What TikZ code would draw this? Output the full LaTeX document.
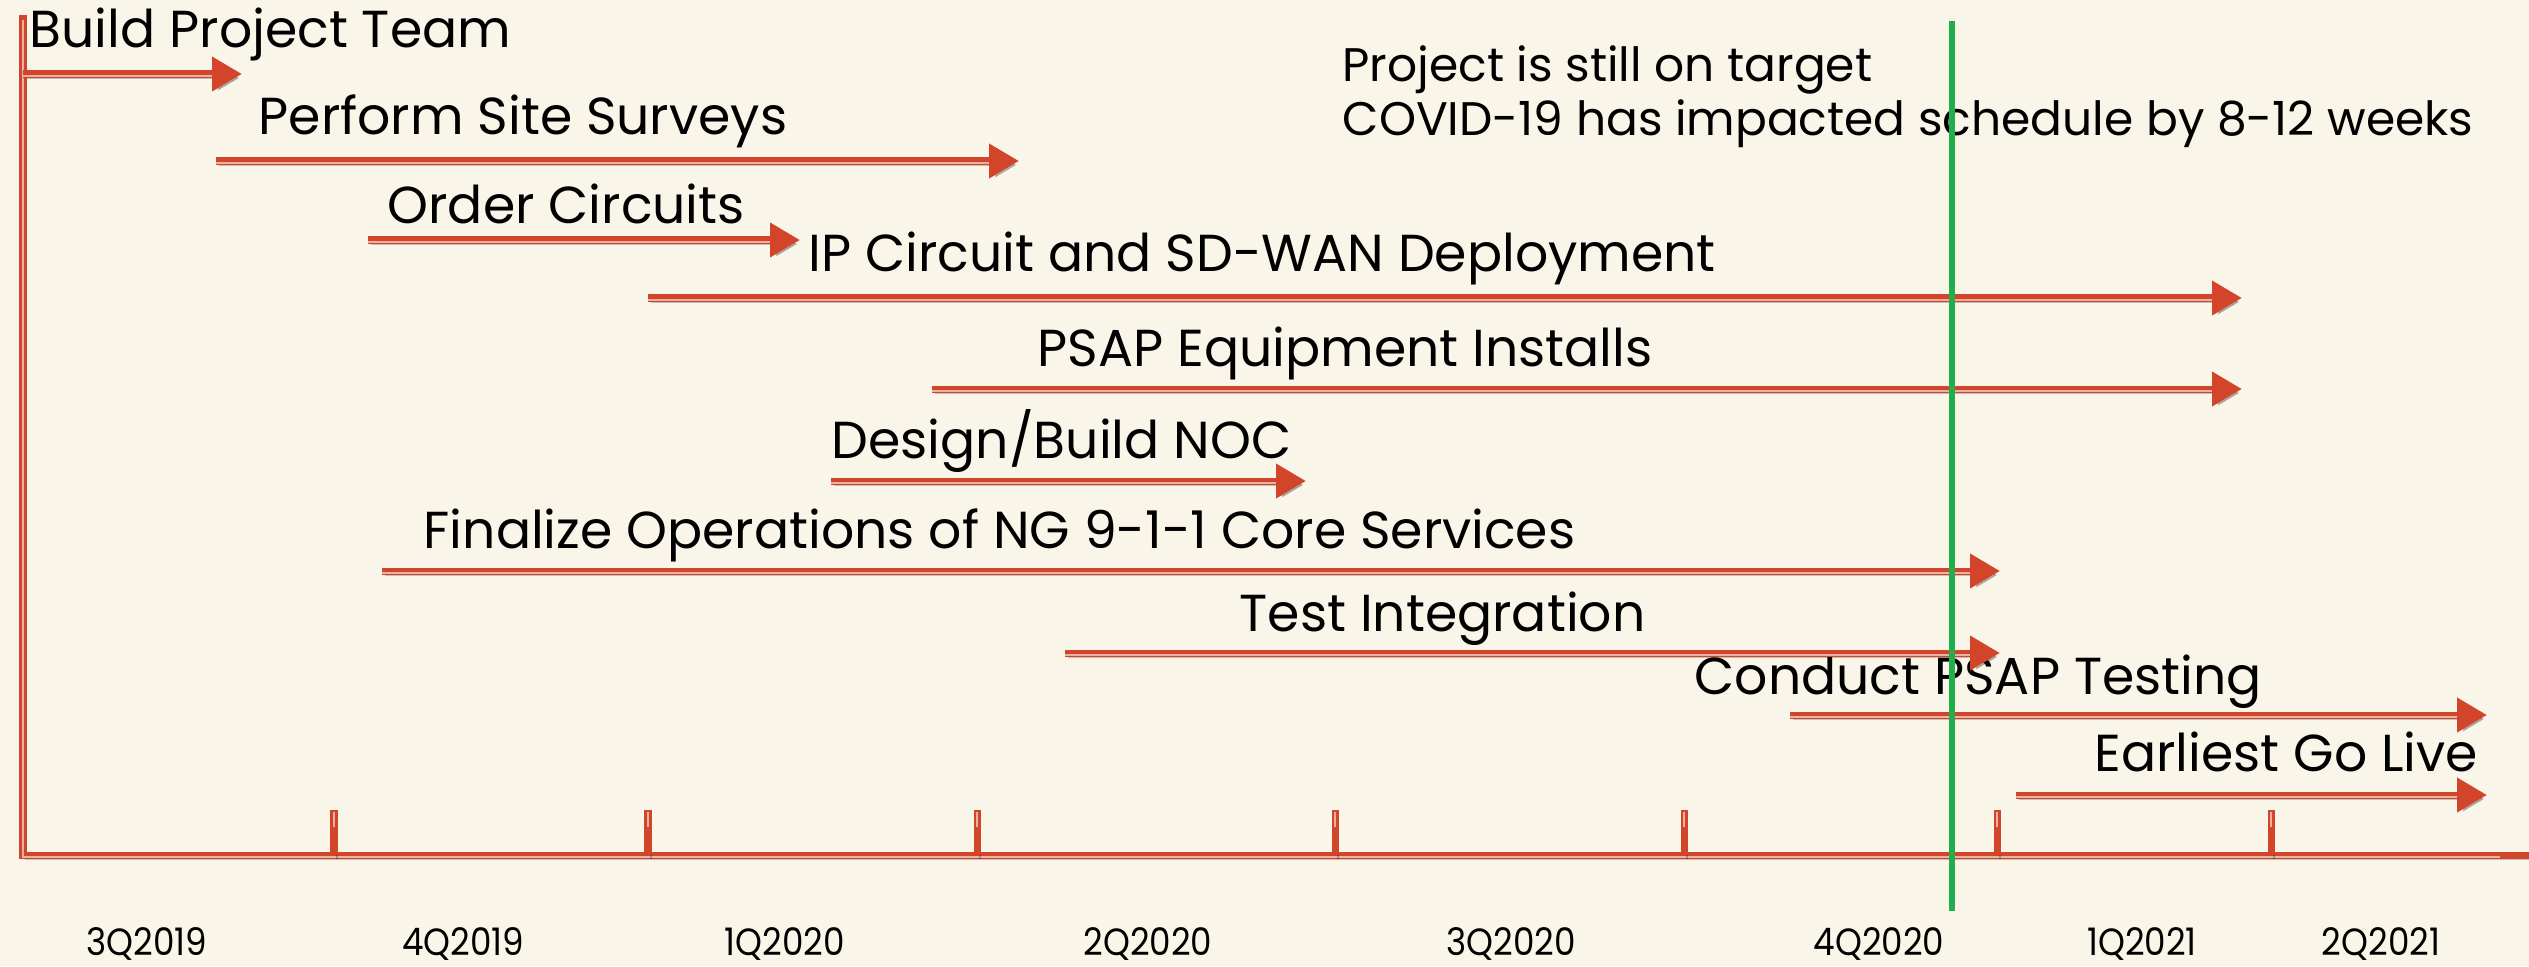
\documentclass[tikz,border=0pt]{standalone}
\usepackage{fontspec}
\setmainfont{Poppins}
\newfontfamily\qfont{Poppins}[FakeStretch=0.9]
\usetikzlibrary{arrows.meta}
\definecolor{slidebg}{HTML}{F9F5E9}
\definecolor{barred}{HTML}{D2452A}
\definecolor{stripe}{HTML}{E8B3A4}
\definecolor{nowgreen}{HTML}{21AE4B}

\begin{document}
\begin{tikzpicture}
        [every node/.style={inner sep=0pt,anchor=base west},
         bar/.style={draw=barred,line width=2pt,
           preaction={draw=black,opacity=0.22,transform canvas={shift={(0.03,-0.04)}}},
           postaction={draw=stripe,line width=0.45pt,-,shorten >=0.3cm,transform canvas={yshift=-0.5pt}}},
         task/.style={bar,-{Triangle[length=0.3cm,width=0.33cm]}},
         lbl/.style={font=\fontsize{14.8}{17}\selectfont},
         note/.style={font=\fontsize{13.4}{16}\selectfont},
         qtr/.style={anchor=base,font=\qfont\fontsize{10.8}{12}\selectfont}]
        \fill[slidebg] (0,0) rectangle (25.29,-9.66);
        \useasboundingbox (0,0) rectangle (25.29,-9.66);

        % axes
        \coordinate (top) at (0.23,-0.19);
        \coordinate (org) at (0.23,-8.55);
        \coordinate (end) at (25.29,-8.55);
        \draw[bar,line cap=rect] (top) -- (org) -- (end);

        \foreach \x [count=\i] in {3.34,6.48,9.77,13.35,16.84,19.97,22.71} {
            \coordinate (t\i) at (\x,-8.10);
            \coordinate (b\i) at (\x,-8.55);
            \draw[bar] (t\i) -- (b\i);
        }

        % quarters
        \node[qtr] (q1) at (1.47,-9.55) {3Q2019};
        \node[qtr] (q2) at (4.63,-9.55) {4Q2019};
        \node[qtr] (q3) at (7.85,-9.55) {1Q2020};
        \node[qtr] (q4) at (11.48,-9.55) {2Q2020};
        \node[qtr] (q5) at (15.11,-9.55) {3Q2020};
        \node[qtr] (q6) at (18.79,-9.55) {4Q2020};
        \node[qtr] (q7) at (21.42,-9.55) {1Q2021};
        \node[qtr] (q8) at (23.81,-9.55) {2Q2021};

        % tasks
        \node[lbl] (l1) at (0.29,-0.47) {Build Project Team};
        \coordinate (s1) at (0.23,-0.74);  \coordinate (e1) at (2.42,-0.74);
        \node[lbl] (l2) at (2.58,-1.34) {Perform Site Surveys};
        \coordinate (s2) at (2.16,-1.61);  \coordinate (e2) at (10.19,-1.61);
        \node[lbl] (l3) at (3.87,-2.23) {Order Circuits};
        \coordinate (s3) at (3.68,-2.40);  \coordinate (e3) at (8.00,-2.40);
        \node[lbl] (l4) at (8.08,-2.71) {IP Circuit and SD-WAN Deployment};
        \coordinate (s4) at (6.48,-2.98);  \coordinate (e4) at (22.42,-2.98);
        \node[lbl] (l5) at (10.37,-3.66) {PSAP Equipment Installs};
        \coordinate (s5) at (9.32,-3.89);  \coordinate (e5) at (22.42,-3.89);
        \node[lbl] (l6) at (8.31,-4.58) {Design/Build NOC};
        \coordinate (s6) at (8.31,-4.81);  \coordinate (e6) at (13.06,-4.81);
        \node[lbl] (l7) at (4.23,-5.48) {Finalize Operations of NG 9-1-1 Core Services};
        \coordinate (s7) at (3.82,-5.71);  \coordinate (e7) at (20.00,-5.71);
        \node[lbl] (l8) at (12.39,-6.31) {Test Integration};
        \coordinate (s8) at (10.65,-6.53); \coordinate (e8) at (20.00,-6.53);
        \node[lbl] (l9) at (16.94,-6.94) {Conduct PSAP Testing};
        \coordinate (s9) at (17.90,-7.15); \coordinate (e9) at (24.87,-7.15);
        \node[lbl] (l10) at (20.94,-7.71) {Earliest Go Live};
        \coordinate (s10) at (20.16,-7.95); \coordinate (e10) at (24.87,-7.95);

        \foreach \i in {1,...,10}
            \draw[task] (s\i) -- (e\i);

        % status
        \node[note] (n1) at (13.42,-0.81) {Project is still on target};
        \node[note] (n2) at (13.42,-1.35) {COVID-19 has impacted schedule by 8-12 weeks};

        \coordinate (g1) at (19.52,-0.21);
        \coordinate (g2) at (19.52,-9.11);
        \draw[nowgreen,line width=1.6pt] (g1) -- (g2);
    \end{tikzpicture}
\end{document}
